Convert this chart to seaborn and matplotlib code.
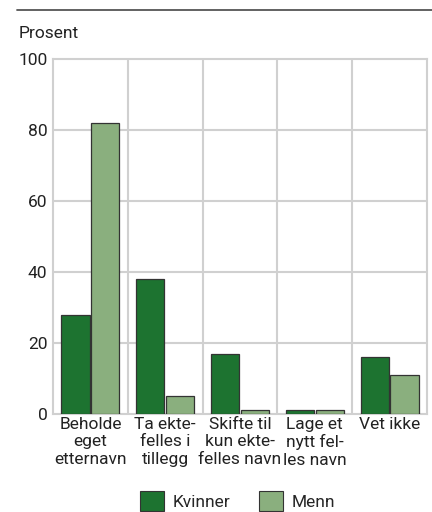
import matplotlib
matplotlib.use("Agg")
import matplotlib.pyplot as plt
import seaborn as sns
import pandas as pd
from matplotlib.lines import Line2D
from matplotlib.patches import Patch

categories = ["Beholde\neget\netternavn", "Ta ekte-\nfelles i\ntillegg", "Skifte til\nkun ekte-\nfelles navn",
              "Lage et\nnytt fel-\nles navn", "Vet ikke"]
kvinner = [28, 38, 17, 1, 16]
menn = [82, 5, 1, 1, 11]
series = ["Kvinner", "Menn"]
colors = ["#1d7330", "#8aaf7e"]
yticks = [0, 20, 40, 60, 80, 100]

df = pd.DataFrame({
    "cat": categories * 2,
    "val": kvinner + menn,
    "serie": [series[0]] * len(categories) + [series[1]] * len(categories),
})

sns.set_style("white")
plt.rcParams['font.family'] = ['Roboto', 'DejaVu Sans']

fig = plt.figure(figsize=(4.32, 5.12), dpi=100)
ax = fig.add_axes([53/432, 1-414/512, (427-53)/432, (414-59)/512])

sns.barplot(data=df, x="cat", y="val", hue="serie", palette=colors, ax=ax, saturation=1,
            width=0.8, gap=0.06, edgecolor="#333333", linewidth=0.9, legend=False, zorder=3)

grid_c = "#d0d0d0"
ax.set_xlim(-0.5, len(categories) - 0.5)
ax.set_ylim(0, 100)
ax.set_yticks(yticks)
for y in yticks[1:-1]:
    ax.axhline(y, color=grid_c, lw=1.5, zorder=1)
for i in range(len(categories) - 1):
    ax.axvline(i + 0.5, color=grid_c, lw=1.5, zorder=1)
for s in ax.spines.values():
    s.set_color(grid_c)
    s.set_linewidth(1.5)

fs = 12.5
ax.set_xlabel("")
ax.set_ylabel("")
ax.tick_params(axis="both", length=0, labelsize=fs, colors="#222222", pad=4)
ax.tick_params(axis="x", pad=2)
ax.set_xticks(range(len(categories)))
ax.set_xticklabels(categories, linespacing=1.2)

fig.text(19/432, 1-33/512, "Prosent", fontsize=fs, va="center", ha="left", color="#222222")
fig.add_artist(Line2D([17/432, 1.0], [1-10/512, 1-10/512], color="#555555", lw=1.3))

handles = [Patch(facecolor=c, edgecolor="#333333", linewidth=0.8) for c in colors]
fig.legend(handles, series, loc="center", bbox_to_anchor=(0.55, 1-501/512), ncol=2, frameon=False,
           fontsize=fs, handlelength=1.4, handleheight=1.4, columnspacing=1.6, handletextpad=0.5,
           borderaxespad=0, borderpad=0)

fig.savefig("out.png", dpi=100)
